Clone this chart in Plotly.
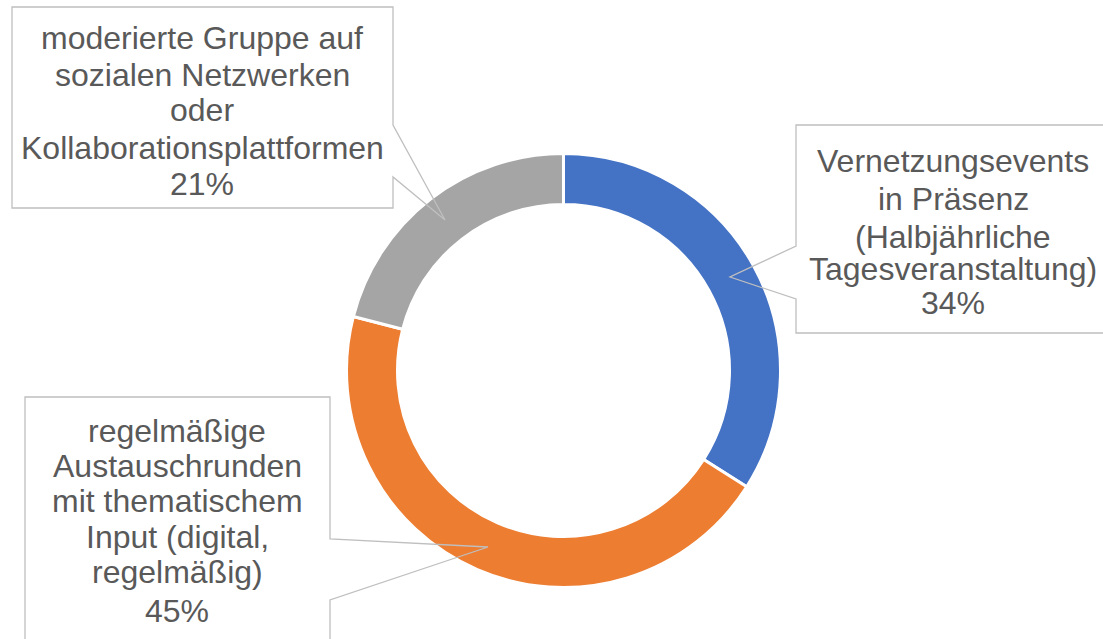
import plotly.graph_objects as go

W, H = 1103, 639

categories = [
    "Vernetzungsevents in Präsenz (Halbjährliche Tagesveranstaltung)",
    "regelmäßige Austauschrunden mit thematischem Input (digital, regelmäßig)",
    "moderierte Gruppe auf sozialen Netzwerken oder Kollaborationsplattformen",
]
values = [34, 45, 21]
colors = ["#4472C4", "#ED7D31", "#A5A5A5"]

label_lines = [
    ["Vernetzungsevents", "in Präsenz", "(Halbjährliche", "Tagesveranstaltung)", "34%"],
    ["regelmäßige", "Austauschrunden", "mit thematischem", "Input (digital,", "regelmäßig)", "45%"],
    ["moderierte Gruppe auf", "sozialen Netzwerken", "oder", "Kollaborationsplattformen", "21%"],
]

# layout (pixels)
cx, cy, R = 563.5, 370.5, 217
label_x = [953, 177, 202]
label_y = [[161, 199, 237, 269, 303], [431, 466, 501, 537, 572, 611], [38, 75, 110, 148, 184]]
callouts = [
    [(796, 125), (1110, 125), (1110, 333), (796, 333), (796, 299), (730, 277), (796, 246)],
    [(25, 397), (330, 397), (330, 539), (488, 547), (330, 600), (330, 650), (25, 650)],
    [(12, 7), (393, 7), (393, 125), (445, 220), (393, 177), (393, 208), (12, 208)],
]


def px(x):
    return x / W


def py(y):
    return 1 - y / H


fig = go.Figure(
    go.Pie(
        labels=categories,
        values=values,
        marker=dict(colors=colors, line=dict(color="white", width=3)),
        hole=0.765,
        sort=False,
        direction="clockwise",
        rotation=0,
        textinfo="none",
        hoverinfo="label+percent",
        domain=dict(x=[px(cx - R), px(cx + R)], y=[py(cy + R), py(cy - R)]),
    )
)

shapes = []
for pts in callouts:
    path = "M " + " L ".join(f"{px(x):.5f},{py(y):.5f}" for x, y in pts) + " Z"
    shapes.append(dict(type="path", xref="paper", yref="paper", path=path,
                       line=dict(color="#BFBFBF", width=1.3), fillcolor="rgba(0,0,0,0)"))

annotations = []
for lines, xs, ys in zip(label_lines, label_x, label_y):
    for t, yy in zip(lines, ys):
        annotations.append(dict(text=t, x=px(xs), y=py(yy), xref="paper", yref="paper",
                                xanchor="center", yanchor="middle", showarrow=False,
                                font=dict(family="Liberation Sans, Arial, sans-serif",
                                          size=32, color="#595959")))

fig.update_layout(
    width=W, height=H,
    margin=dict(l=0, r=0, t=0, b=0),
    paper_bgcolor="white",
    plot_bgcolor="white",
    showlegend=False,
    shapes=shapes,
    annotations=annotations,
)

fig.write_html("out.html", config={"displayModeBar": False},
               post_script="document.body.style.margin='0';document.body.style.overflow='hidden';")
